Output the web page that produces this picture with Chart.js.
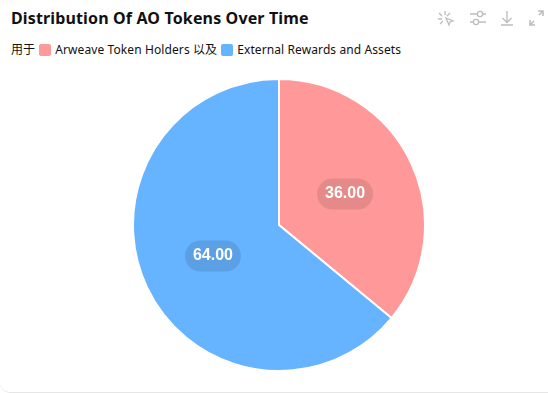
<!DOCTYPE html>
<html lang="zh">
<head>
  <meta charset="UTF-8" />
  <title>Distribution Of AO Tokens Over Time</title>
  <script src="https://cdn.jsdelivr.net/npm/chart.js"></script>
  <style>
    html, body { margin: 0; padding: 0; background: #fff; }
    #card {
      position: relative;
      width: 548px;
      height: 393px;
      box-sizing: border-box;
      overflow: hidden;
      border-bottom: 1px solid #e6e6e6;
      border-bottom-left-radius: 10px;
      font-family: "Noto Sans", "Noto Sans CJK SC", sans-serif;
      color: #111;
    }
    #title {
      position: absolute;
      left: 11px;
      top: 7px;
      font-size: 16px;
      line-height: 22px;
      font-weight: 700;
      letter-spacing: 0.14px;
      white-space: nowrap;
    }
    #legend {
      position: absolute;
      left: 11px;
      top: 41px;
      font-size: 12px;
      line-height: 18px;
      letter-spacing: 0.1px;
      white-space: nowrap;
      display: flex;
      align-items: center;
    }
    #legend i {
      display: inline-block;
      width: 12px;
      height: 12px;
      border-radius: 2px;
      margin: 0 4px;
    }
    #tools { position: absolute; left: 0; top: 0; }
    #chart { position: absolute; left: 132px; top: 78px; }
  </style>
</head>
<body>
  <div id="card">
    <div id="title">Distribution Of AO Tokens Over Time</div>
    <div id="legend"></div>
    <svg id="tools" width="548" height="40" fill="none" stroke="#bdbdbd" stroke-width="1.3">
      <path d="M445 11v4M439 13l3 3M438 19h4M440 24l3-3M450 13l-3 3" />
      <path d="M446 18l7 3-3 1-1 3z" />
      <path d="M470 14h7M483 14h3M470 22h3M479 22h7" />
      <circle cx="480" cy="14" r="2.6" />
      <circle cx="476" cy="22" r="2.6" />
      <path d="M507 11v11M502.5 18l4.5 4.5 4.500-4.500M501 25h12" />
      <path d="M534 21l-3 3M530 20v5h5M539 15l3-3M538 11h5v5" stroke-width="1.600" />
    </svg>
    <canvas id="chart" width="294" height="294"></canvas>
  </div>
  <script>
    const categories = ["Arweave Token Holders", "External Rewards and Assets"];
    const values = [36, 64];
    const colors = ["#ff9999", "#66b3ff"];

    const legend = document.getElementById("legend");
    legend.innerHTML = `用于<i style="background:${colors[0]}"></i>${categories[0]}&nbsp;以及<i style="background:${colors[1]}"></i>${categories[1]}`;

    // value pills in the middle of each slice
    const pillLabels = {
      id: "pillLabels",
      afterDatasetsDraw(chart) {
        const ctx = chart.ctx;
        chart.getDatasetMeta(0).data.forEach((arc, i) => {
          const { x, y } = arc.getCenterPoint();
          ctx.save();
          ctx.fillStyle = "rgba(0,0,0,0.1)";
          ctx.beginPath();
          ctx.roundRect(x - 28, y - 15.5, 56, 31, 15.5);
          ctx.fill();
          ctx.fillStyle = "#fff";
          ctx.font = "bold 16px 'Liberation Sans', Arial, sans-serif";
          ctx.textAlign = "center";
          ctx.textBaseline = "middle";
          ctx.fillText(values[i].toFixed(2), x, y - 0.5);
          ctx.restore();
        });
      }
    };

    new Chart(document.getElementById("chart"), {
      type: "pie",
      data: {
        labels: categories,
        datasets: [{ data: values, backgroundColor: colors, borderColor: "#fff", borderWidth: 2 }]
      },
      options: {
        responsive: false,
        animation: false,
        plugins: { legend: { display: false }, tooltip: { enabled: false } }
      },
      plugins: [pillLabels]
    });
  </script>
</body>
</html>
